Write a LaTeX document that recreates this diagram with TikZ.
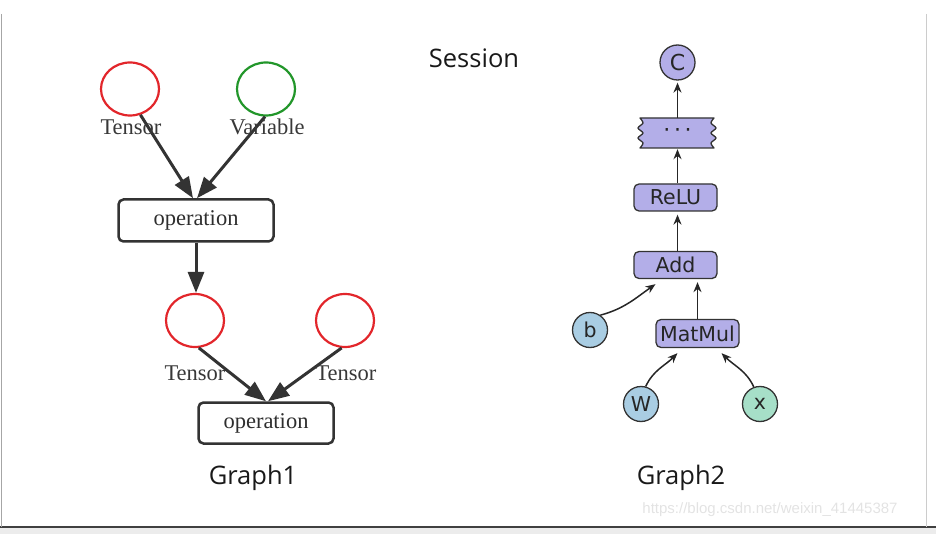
\documentclass[tikz,border=0pt]{standalone}
\usepackage{fontspec}
\setmainfont{Liberation Serif}
\newfontfamily\uifont{Open Sans}
\newfontfamily\dvfont{DejaVu Sans}
\newfontfamily\wmfont{Liberation Sans}
\usetikzlibrary{arrows.meta,shapes.geometric,calc}
\definecolor{opline}{HTML}{333333}
\definecolor{tred}{HTML}{E2262B}
\definecolor{tgreen}{HTML}{22962A}
\definecolor{purp}{HTML}{B3AEE8}
\definecolor{lblue}{HTML}{A9CDE3}
\definecolor{lgreen}{HTML}{A6DFC8}
\tikzset{
  tensorc/.style={ellipse, draw=tred, line width=2.2pt, minimum width=58pt, minimum height=53pt, inner sep=0pt},
  lbl/.style={font=\fontsize{22.5}{24}\selectfont, text=black!78, inner sep=0pt},
  opbox/.style={draw=opline, line width=2.5pt, rounded corners=5pt, font=\fontsize{22.5}{24}\selectfont, text=black!82, inner sep=0pt},
  bigarrow/.style={opline, line width=3pt, -{Triangle[length=21pt,width=16pt]}},
  rnode/.style={draw=black!80, line width=1.3pt, fill=purp, font=\dvfont\fontsize{20.5}{22}\selectfont, text=black!85, inner sep=0pt},
  rbox/.style={rnode, rounded corners=5pt, minimum width=83pt, minimum height=27pt},
  rcirc/.style={rnode, circle, minimum size=35pt},
  smallarrow/.style={black!85, line width=1.5pt, -{Stealth[length=10pt,width=8pt]}},
  title/.style={font=\uifont\fontsize{25.5}{28}\selectfont, text=black!90, inner sep=0pt}
}
\begin{document}
\begin{tikzpicture}[x=1pt,y=1pt]
\useasboundingbox (0,0) rectangle (936,-534);
% frame
\fill[gray!15] (0,-527) rectangle (936,-534);
\draw[line width=2pt, black!75] (0,-527) -- (936,-527);
\draw[line width=1pt, gray!70] (1.5,-14) -- (1.5,-527);
\draw[line width=0.8pt, gray!40] (926,-14) -- (926,-527);

% titles
\node[title] (session) at (474,-58) {Session};
\node[title] (g1) at (253,-478) {Graph1};
\node[title] (g2) at (681,-478) {Graph2};

% ---------- Graph1 ----------
\node[tensorc] (t1) at (130,-89) {};
\node[tensorc, draw=tgreen] (v1) at (266,-89) {};
\node[opbox, minimum width=155pt, minimum height=42pt] (op1) at (196,-220.5) {operation};
\node[tensorc] (t2) at (195,-320.5) {};
\node[tensorc] (t3) at (345,-320.5) {};
\node[opbox, minimum width=135pt, minimum height=41pt] (op2) at (266,-423) {operation};

\draw[bigarrow] (t1.-68) -- ([xshift=-3pt]op1.north);
\draw[bigarrow] (v1.-92) -- ([xshift=1pt]op1.north);
\draw[bigarrow] (op1.south) -- (op1.south |- t2.north);
\draw[bigarrow] (t2.-82) -- ([xshift=0pt]op2.north);
\draw[bigarrow] (t3.-97) -- ([xshift=2pt]op2.north);

\node[lbl] (t1l) at (131,-127) {Tensor};
\node[lbl] (v1l) at (267,-127) {Variable};
\node[lbl] (t2l) at (195,-373) {Tensor};
\node[lbl] (t3l) at (346,-373) {Tensor};

% ---------- Graph2 ----------
\filldraw[fill=purp, draw=black!80, line width=1.3pt, line join=round]
  (640,-118) -- (714,-118)
  -- plot[smooth] coordinates {(714,-118) (711,-123) (716,-128) (711,-133) (716,-138) (711,-143) (714,-148)}
  -- (640,-148)
  -- plot[smooth] coordinates {(640,-148) (643,-143) (638,-138) (643,-133) (638,-128) (643,-123) (640,-118)}
  -- cycle;
\node[inner sep=0pt, minimum width=74pt, minimum height=30pt, font=\dvfont\fontsize{22}{24}\selectfont, text=black!85] (dots) at (677.5,-133) {·\,·\,·};

\node[rcirc, font=\dvfont\fontsize{22}{24}\selectfont] (c) at (677.5,-62.5) {C};
\node[rbox] (relu) at (675.5,-197.5) {ReLU};
\node[rbox] (add) at (675.5,-265) {Add};
\node[rbox, minimum height=28pt] (mm) at (697.5,-333.5) {MatMul};
\node[rcirc, fill=lblue] (b) at (590,-330) {b};
\node[rcirc, fill=lblue] (w) at (641,-404) {W};
\node[rcirc, fill=lgreen] (x) at (760,-404) {x};

\draw[smallarrow, shorten >=2pt] (dots.north) -- (c.south);
\draw[smallarrow, shorten >=1pt] (relu.north -| dots) -- (dots.south);
\draw[smallarrow, shorten >=3pt] (add.north -| dots) -- (relu.south -| dots);
\draw[smallarrow, shorten >=3pt] (mm.north) -- (mm.north |- add.south);
\draw[smallarrow] (b.55) to[out=15,in=215] ([xshift=-20pt,yshift=-5pt]add.south);
\draw[smallarrow] (w.75) to[out=65,in=225] ([xshift=-20pt,yshift=-5pt]mm.south);
\draw[smallarrow] (x.110) to[out=115,in=-45] ([xshift=24pt,yshift=-5pt]mm.south);

% watermark
\node[font=\wmfont\fontsize{15}{17}\selectfont, text=gray!22, inner sep=0pt] (wm) at (770,-510) {https://blog.csdn.net/weixin\_41445387};
\end{tikzpicture}
\end{document}
